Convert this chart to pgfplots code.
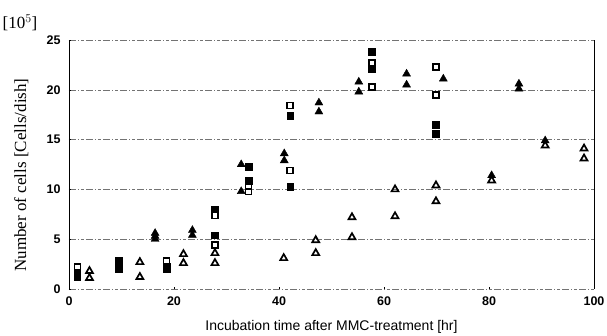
\documentclass[border=0pt]{standalone}
\usepackage{fontspec}
\setmainfont{Liberation Sans}
\newfontfamily\seriffont{Liberation Serif}
\usepackage{pgfplots}
\pgfplotsset{compat=1.18}
\begin{document}
\begin{tikzpicture}
\begin{axis}[
  scale only axis, width=525pt, height=249pt,
  xmin=0, xmax=100, ymin=0, ymax=25,
  xtick={0,20,...,100}, ytick={0,5,...,25},
  separate axis lines,
  x axis line style={draw=none},
  y axis line style={black, line width=0.8pt},
  ymajorgrids,
  grid style={black!55, line width=0.45pt, dash pattern=on 7pt off 2pt on 1pt off 2pt on 3pt off 2pt},
  tick style={black, line width=0.5pt}, major tick length=2pt,
  xtick pos=bottom, ytick pos=left, tick align=inside,
  ticklabel style={font=\bfseries\fontsize{12.5}{12.5}\selectfont},
  yticklabel style={xshift=-5pt},
  xticklabel style={yshift=-4pt},
  /pgf/number format/assume math mode=true,
  xlabel={Incubation time after MMC-treatment [hr]},
  xlabel style={font=\fontsize{14}{14}\selectfont, at={(axis description cs:0.5,-0.153)}, anchor=center},
  ylabel={Number of cells [Cells/dish]},
  ylabel style={font=\seriffont\fontsize{17}{17}\selectfont, at={(axis description cs:-0.091,0.458)}, anchor=center},
  clip=false,
  only marks,
]
% filled squares
\addplot[black, mark=square*, mark size=3.3pt, mark options={fill=black}] coordinates {
(1.6,1.2) (1.6,1.7) (9.5,2.0) (9.5,2.5) (9.5,2.9) (18.6,2.0) (18.6,2.3)
(27.8,8.0) (27.8,5.4) (34.2,12.3) (34.2,10.9) (42.1,17.4) (42.1,10.3)
(57.7,23.8) (57.7,22.1) (69.9,16.5) (69.9,15.6)};
% open squares
\addplot[black, mark=square, mark size=3.0pt, mark options={line width=1.5pt, fill=white}] coordinates {
(1.6,2.2) (18.6,2.8) (27.8,7.4) (27.8,4.4) (34.2,10.3) (34.2,9.8)
(42.1,18.4) (42.1,11.9) (57.7,22.7) (57.7,20.3) (69.9,22.3) (69.9,19.5)};
% filled triangles
\addplot[black, mark=triangle*, mark size=4.6pt, mark options={fill=black}] coordinates {
(16.4,5.0) (16.4,5.3) (16.4,5.6) (23.5,5.4) (23.5,5.9) (32.8,12.5) (32.8,9.8)
(41.0,13.6) (41.0,12.9) (47.6,18.7) (47.6,17.8) (55.2,20.8) (55.2,19.8)
(64.3,21.6) (64.3,20.5) (71.3,21.1) (85.7,20.6) (85.7,20.1) (90.7,14.9) (80.5,11.4)};
% open triangles
\addplot[black, mark=triangle, mark size=4.0pt, mark options={line width=1.7pt, fill=white}] coordinates {
(3.9,1.8) (3.9,1.1) (13.5,2.7) (13.5,1.2) (21.8,3.5) (21.8,2.6) (27.8,3.6) (27.8,2.6)
(40.9,3.1) (47.0,4.9) (47.0,3.6) (53.9,7.2) (53.9,5.2) (62.1,10.0) (62.1,7.3)
(69.9,10.4) (69.9,8.8) (80.5,10.9) (90.7,14.4) (98.1,14.1) (98.1,13.1)};
\node[font=\seriffont\fontsize{17}{17}\selectfont, anchor=center] at ([xshift=-49pt, yshift=17pt]rel axis cs:0,1) {[10$^{5}$]};
\end{axis}
\pgfresetboundingbox
\path ([shift={(-69pt,-47pt)}]current axis.south west) rectangle ([shift={(13pt,40pt)}]current axis.north east);
\end{tikzpicture}
\end{document}
